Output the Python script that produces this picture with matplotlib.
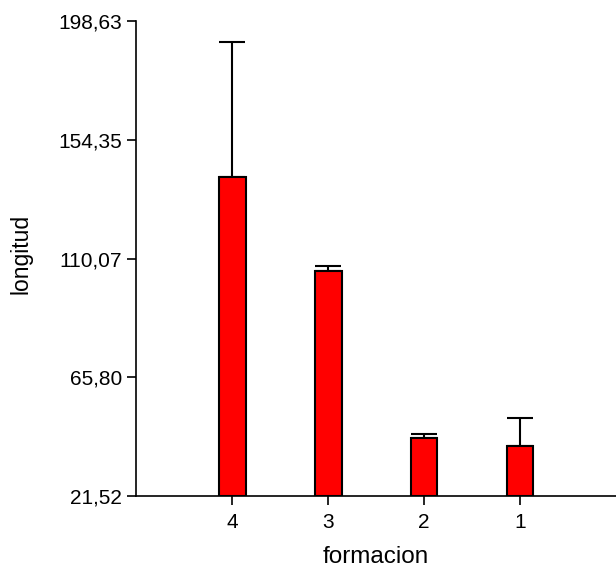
import numpy as np
import matplotlib
matplotlib.use('Agg')
import matplotlib.pyplot as plt

plt.rcParams['font.family'] = ['Liberation Sans', 'DejaVu Sans']

# Dados
categorias = ['4', '3', '2', '1']
medias = [140.5, 105.5, 43.3, 40.4]
erro_sup = [50.3, 1.9, 1.3, 10.2]
ticks_y = [21.52, 65.80, 110.07, 154.35, 198.63]
rotulos_y = ['21,52', '65,80', '110,07', '154,35', '198,63']

fig = plt.figure(figsize=(6.16, 5.69), dpi=100)
ax = fig.add_axes([0.221, 0.128, 0.779, 0.835])

pos = np.arange(1, len(categorias) + 1)
base = ticks_y[0]
alturas = [m - base for m in medias]

# barras + erro só para cima (tampa inferior fica escondida atrás da barra)
ax.bar(pos, alturas, bottom=base, width=0.28, color='#ff0000',
       edgecolor='black', linewidth=1.5, zorder=2)
ax.errorbar(pos, medias, yerr=[np.zeros(len(pos)), erro_sup], fmt='none',
            ecolor='black', elinewidth=1.5, capsize=9.3, capthick=1.5, zorder=1)

ax.set_xlim(0, 5)
ax.set_ylim(ticks_y[0], ticks_y[-1])
ax.set_xticks(pos)
ax.set_xticklabels(categorias)
ax.set_yticks(ticks_y)
ax.set_yticklabels(rotulos_y)

ax.spines['top'].set_visible(False)
ax.spines['right'].set_visible(False)
ax.spines['left'].set_linewidth(1.2)
ax.spines['bottom'].set_linewidth(1.2)
ax.tick_params(axis='both', direction='out', length=6.5, width=1.2, labelsize=15)
ax.tick_params(axis='x', pad=5.5)
ax.tick_params(axis='y', pad=3.5)

ax.set_xlabel('formacion', fontsize=17.5, labelpad=10)
ax.set_ylabel('longitud', fontsize=16.5)
ax.yaxis.set_label_coords(-0.216, 0.51)

fig.savefig('out.png', dpi=100)
